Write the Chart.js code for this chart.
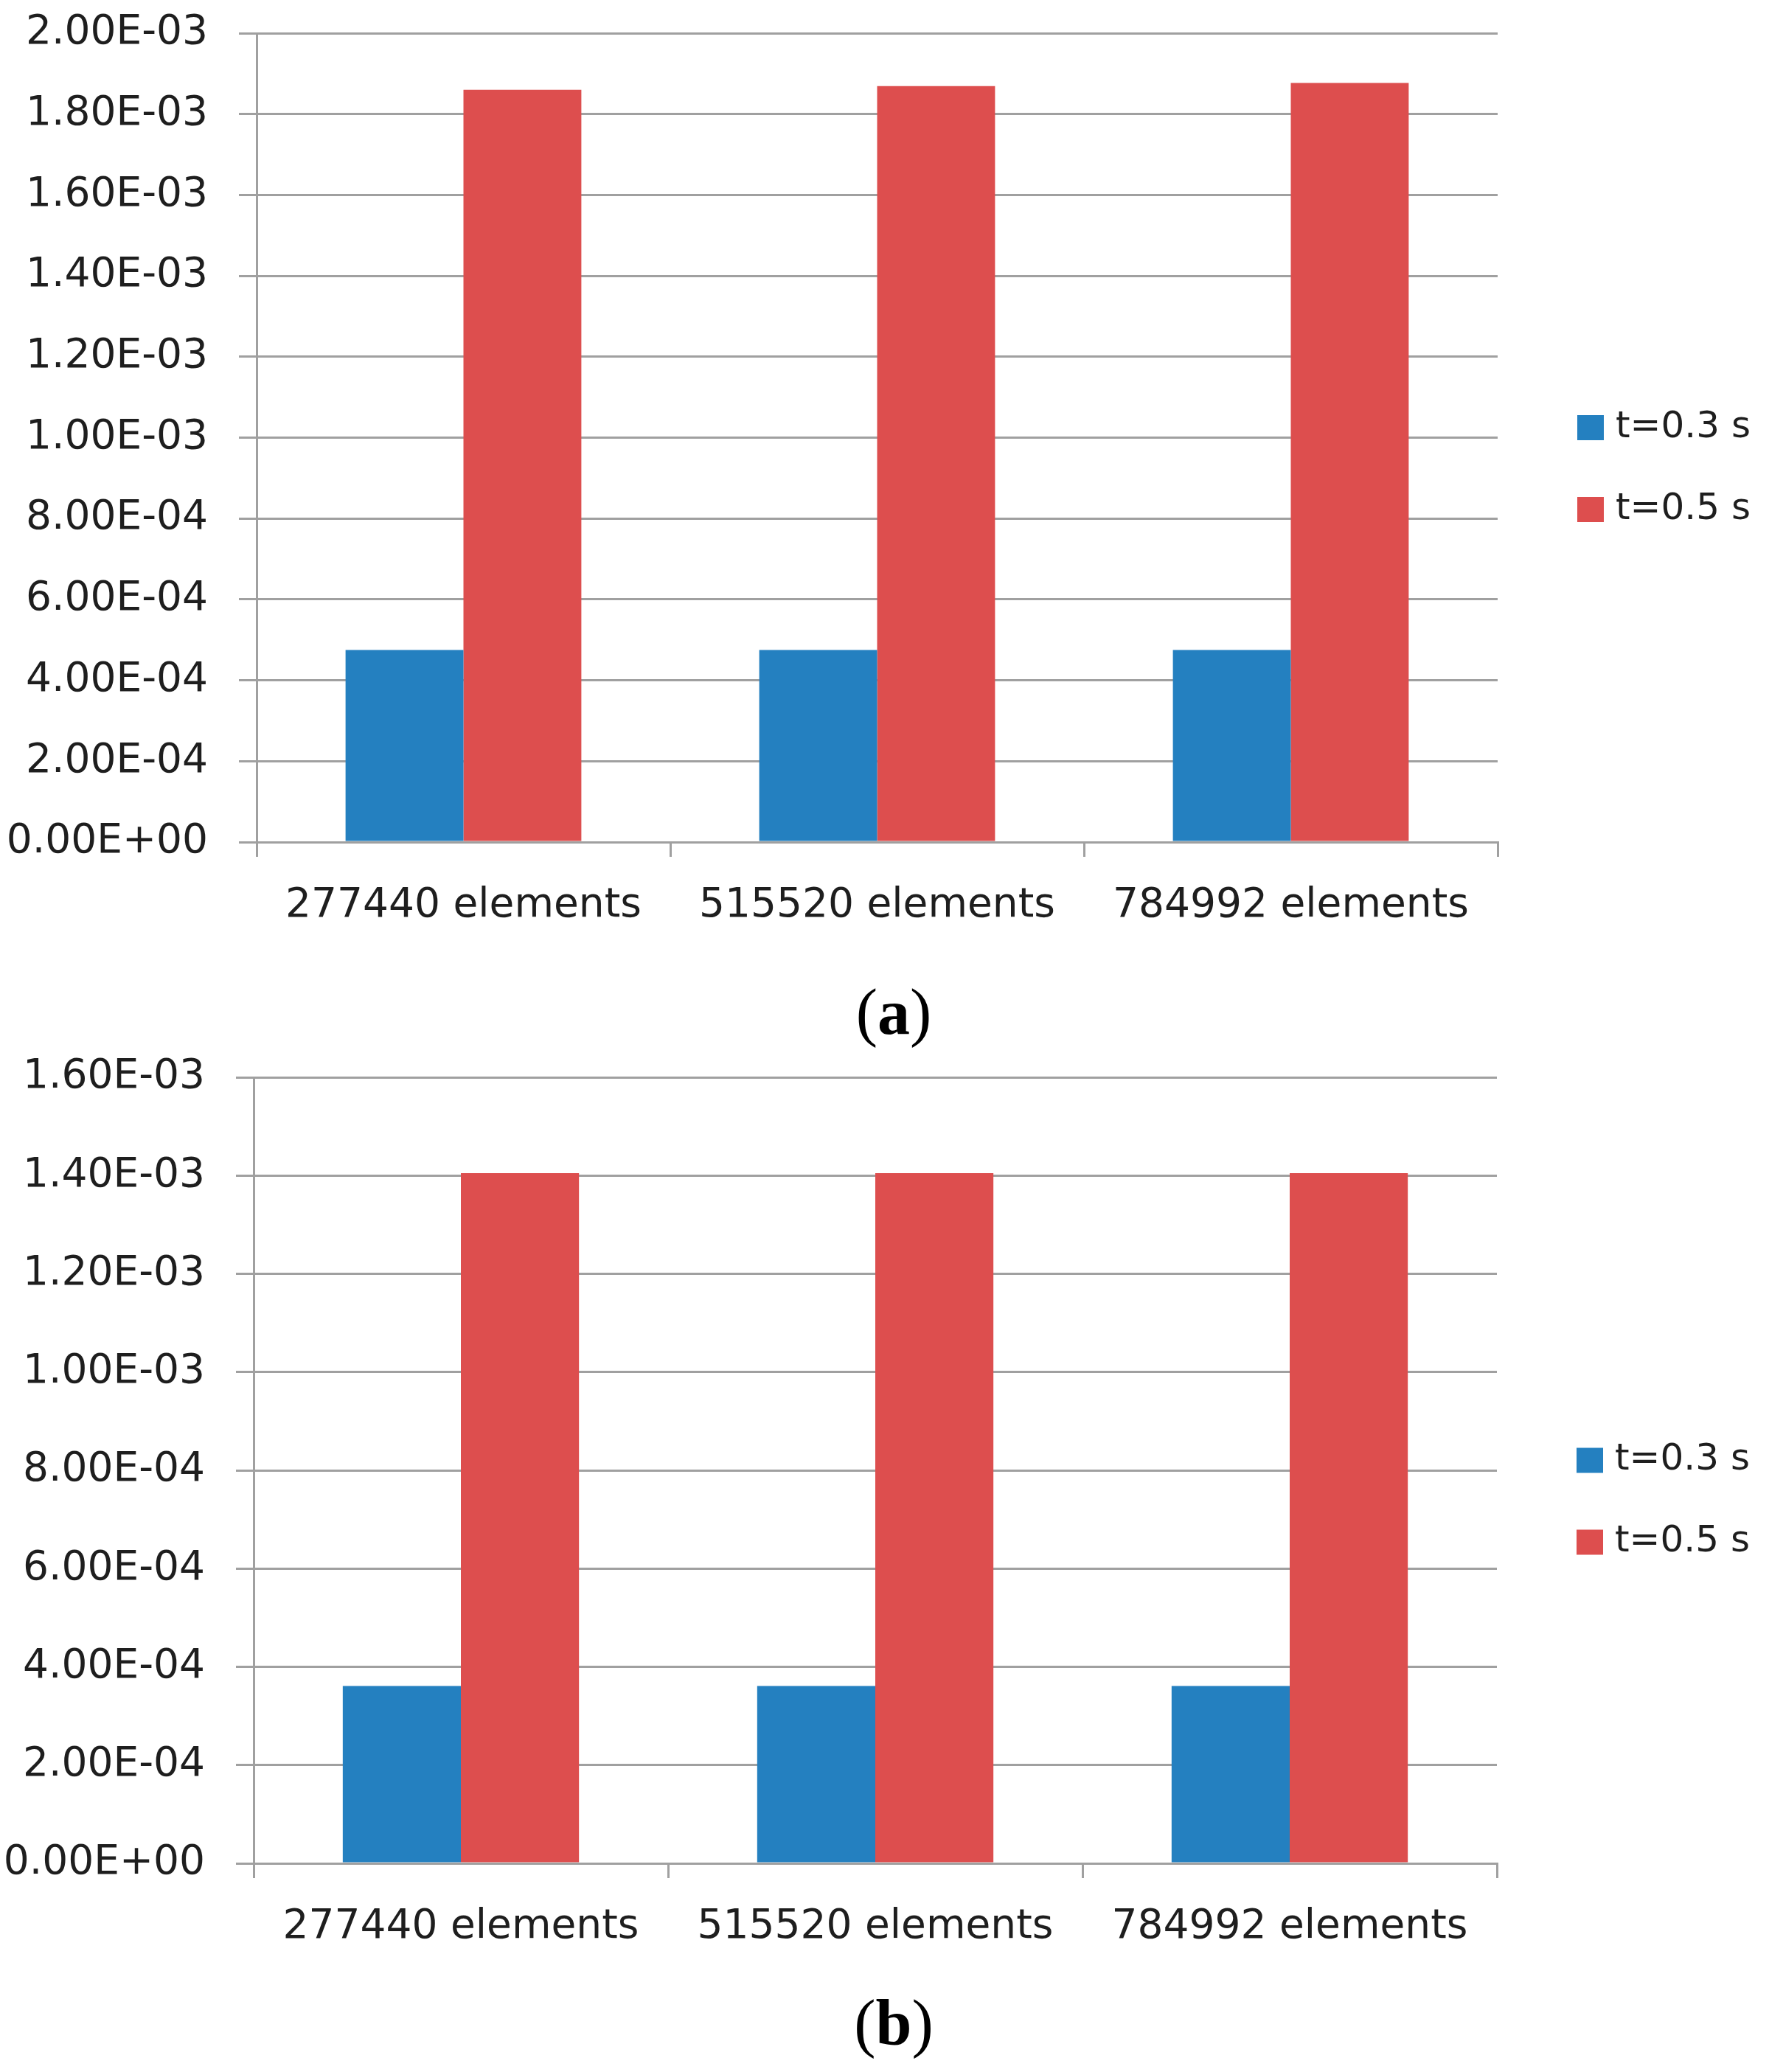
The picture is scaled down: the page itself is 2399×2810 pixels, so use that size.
<!DOCTYPE html>
<html>
<head>
<meta charset="utf-8">
<script src="https://cdn.jsdelivr.net/npm/chart.js@4.4.1/dist/chart.umd.min.js"></script>
<style>
  body { margin: 0; background: #fff; width: 2399px; height: 2810px; position: relative; overflow: hidden; }
  canvas { position: absolute; left: 0; }
  .cap { position: absolute; left: 0; width: 2424px; text-align: center; font-family: "Liberation Serif", serif; font-size: 88px; line-height: 100px; color: #000; }
</style>
</head>
<body>
<canvas id="chartA" width="2399" height="1300" style="top:0px"></canvas>
<div class="cap" style="top:1323px">(<b>a</b>)</div>
<canvas id="chartB" width="2399" height="1250" style="top:1420px"></canvas>
<div class="cap" style="top:2694px">(<b>b</b>)</div>
<script>
var categories = ["277440 elements", "515520 elements", "784992 elements"];
var seriesLabels = ["t=0.3 s", "t=0.5 s"];
var seriesColors = ["#2480c0", "#dd4e4e"];

// (a)
var valuesA03 = [4.75e-4, 4.75e-4, 4.75e-4];
var valuesA05 = [1.860e-3, 1.869e-3, 1.877e-3];
var yMaxA = 2.0e-3;

// (b)
var valuesB03 = [3.61e-4, 3.61e-4, 3.61e-4];
var valuesB05 = [1.405e-3, 1.405e-3, 1.405e-3];
var yMaxB = 1.6e-3;

var yStep = 2.0e-4;

var GRID = '#a0a0a0';
var TEXT = '#1e1e1e';

function fmtExp(v) {
    var s = Number(v).toExponential(2).toUpperCase();
    var parts = s.split('E');
    var sign = parts[1][0];
    var exp = parts[1].slice(1);
    if (exp.length < 2) exp = '0' + exp;
    return parts[0] + 'E' + sign + exp;
}

// legend drawn beside the plot area
var sideLegend = {
    id: 'sideLegend',
    afterDraw: function (chart) {
        var ctx = chart.ctx;
        var area = chart.chartArea;
        var mid = (area.top + area.bottom) / 2 + 42;
        var n = chart.data.datasets.length;
        ctx.save();
        ctx.font = '50px "DejaVu Sans"';
        ctx.textBaseline = 'middle';
        ctx.textAlign = 'left';
        chart.data.datasets.forEach(function (ds, i) {
            var cy = mid + (i - (n - 1) / 2) * 111;
            var x = area.right + 108;
            ctx.fillStyle = ds.backgroundColor;
            ctx.fillRect(x, cy - 17, 36, 34);
            ctx.fillStyle = TEXT;
            ctx.fillText(ds.label, x + 52, cy);
        });
        ctx.restore();
    }
};

function makeChart(id, v03, v05, yMax, yWidth, padTop, padRight, xHeight) {
    return new Chart(document.getElementById(id), {
        type: 'bar',
        data: {
            labels: categories,
            datasets: [{
                label: seriesLabels[0],
                data: v03,
                backgroundColor: seriesColors[0]
            }, {
                label: seriesLabels[1],
                data: v05,
                backgroundColor: seriesColors[1]
            }]
        },
        options: {
            responsive: false,
            animation: false,
            devicePixelRatio: 1,
            layout: { padding: { top: padTop, right: padRight, left: 0, bottom: 0 } },
            plugins: { legend: { display: false }, tooltip: { enabled: false } },
            datasets: { bar: { categoryPercentage: 0.57, barPercentage: 1.0 } },
            scales: {
                x: {
                    afterFit: function (s) {
                        s.height = xHeight;
                        s.paddingLeft = 0;
                        s.paddingRight = 0;
                    },
                    grid: { offset: true, drawOnChartArea: false, drawTicks: true, tickLength: 20, color: GRID, lineWidth: 3 },
                    border: { color: GRID, width: 3 },
                    ticks: { color: TEXT, padding: 34, font: { family: 'DejaVu Sans', size: 55 }, maxRotation: 0 }
                },
                y: {
                    min: 0,
                    max: yMax,
                    afterFit: function (s) {
                        s.width = yWidth;
                        s.paddingTop = 0;
                        s.paddingBottom = 0;
                    },
                    grid: { color: GRID, lineWidth: 3, drawTicks: true, tickLength: 24 },
                    border: { color: GRID, width: 3 },
                    ticks: {
                        stepSize: yStep,
                        color: TEXT,
                        padding: 42,
                        font: { family: 'DejaVu Sans', size: 55 },
                        callback: function (v) { return fmtExp(v); }
                    }
                }
            }
        },
        plugins: [sideLegend]
    });
}

makeChart('chartA', valuesA03, valuesA05, yMaxA, 348, 45, 368, 158);
makeChart('chartB', valuesB03, valuesB05, yMaxB, 344, 41, 369, 143);
</script>
</body>
</html>
